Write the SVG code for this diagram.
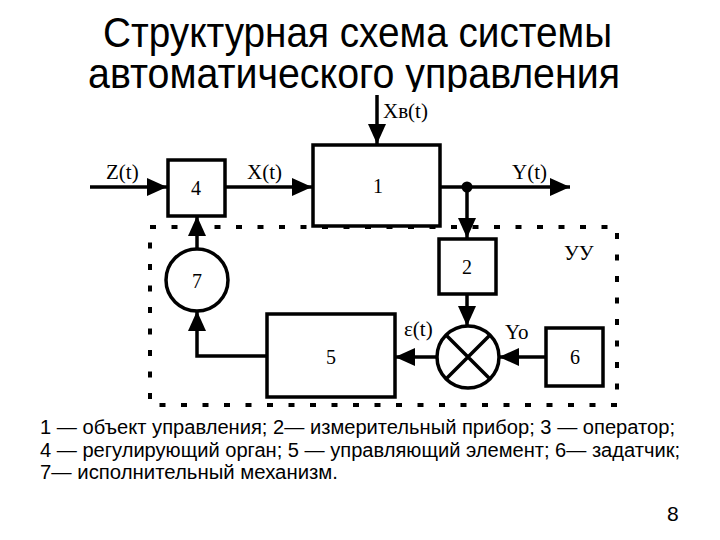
<svg xmlns="http://www.w3.org/2000/svg" width="720" height="540" viewBox="0 0 720 540">
<style>
.title{font-family:"Liberation Sans",Arial,sans-serif;font-size:42px;fill:#000}
.leg{font-family:"Liberation Sans",Arial,sans-serif;font-size:19.5px;fill:#000}
.lbl{font-family:"Liberation Serif","Times New Roman",serif;font-size:21px;fill:#000}
.num{font-family:"Liberation Serif","Times New Roman",serif;font-size:20px;fill:#000;text-anchor:middle;dominant-baseline:central}
.blk{fill:#fff;stroke:#000;stroke-width:3.5}
.ln{fill:none;stroke:#000;stroke-width:3.5}
</style>
<defs>
<marker id="ah" markerUnits="userSpaceOnUse" markerWidth="20" markerHeight="18" refX="20" refY="9" orient="auto">
<path d="M0,0 L20,9 L0,18 z" fill="#000"/>
</marker>
<clipPath id="tclip"><rect x="0" y="0" width="720" height="92"/></clipPath>
</defs>
<rect width="720" height="540" fill="#fff"/>
<g id="title" clip-path="url(#tclip)">
<text class="title" x="103" y="47" textLength="509" lengthAdjust="spacingAndGlyphs">Структурная схема системы</text>
<text class="title" x="88" y="88" textLength="532" lengthAdjust="spacingAndGlyphs">автоматического управления</text>
</g>
<g id="uu-boundary">
<rect x="150" y="227" width="467" height="178" fill="none" stroke="#000" stroke-width="4" stroke-dasharray="6 15.5"/>
<text class="lbl" x="564" y="260">УУ</text>
</g>
<g id="connectors">
<line class="ln" x1="90" y1="187" x2="167" y2="187" marker-end="url(#ah)"/>
<line class="ln" x1="226" y1="187" x2="312" y2="187" marker-end="url(#ah)"/>
<line class="ln" x1="377" y1="95" x2="377" y2="144" marker-end="url(#ah)"/>
<line class="ln" x1="440" y1="187" x2="570" y2="187" marker-end="url(#ah)"/>
<circle cx="467" cy="187" r="5.5" fill="#000"/>
<line class="ln" x1="467" y1="187" x2="467" y2="238" marker-end="url(#ah)"/>
<line class="ln" x1="467" y1="294" x2="467" y2="326" marker-end="url(#ah)"/>
<line class="ln" x1="546" y1="357" x2="499" y2="357" marker-end="url(#ah)"/>
<line class="ln" x1="437" y1="357" x2="395" y2="357" marker-end="url(#ah)"/>
<polyline class="ln" points="267,356 197,356 197,311" marker-end="url(#ah)"/>
<line class="ln" x1="197" y1="249" x2="197" y2="216" marker-end="url(#ah)"/>
<text class="lbl" x="106" y="179">Z(t)</text>
<text class="lbl" x="247" y="179">X(t)</text>
<text class="lbl" x="383" y="118">Xв(t)</text>
<text class="lbl" x="512" y="179">Y(t)</text>
<text class="lbl" x="404" y="336">ε(t)</text>
<text class="lbl" x="505" y="339">Yo</text>
</g>
<g id="n4"><rect class="blk" x="168" y="160" width="57" height="56"/><text class="num" x="196" y="188">4</text></g>
<g id="n1"><rect class="blk" x="313" y="145" width="127" height="81"/><text class="num" x="378" y="186">1</text></g>
<g id="n2"><rect class="blk" x="439" y="239" width="57" height="55"/><text class="num" x="467" y="267">2</text></g>
<g id="n6"><rect class="blk" x="546" y="328" width="57" height="58"/><text class="num" x="575" y="357">6</text></g>
<g id="n5"><rect class="blk" x="267" y="314" width="128" height="83"/><text class="num" x="331" y="357">5</text></g>
<g id="n7"><circle class="blk" cx="197" cy="280" r="31"/><text class="num" x="197" y="281">7</text></g>
<g id="comparator"><circle class="blk" cx="468" cy="357" r="31"/><path class="ln" d="M446,335 L490,379 M490,335 L446,379"/></g>
<g id="legend">
<text class="leg" x="40" y="434" textLength="635" lengthAdjust="spacingAndGlyphs">1 — объект управления; 2— измерительный прибор; 3 — оператор;</text>
<text class="leg" x="40" y="457" textLength="640" lengthAdjust="spacingAndGlyphs">4 — регулирующий орган; 5 — управляющий элемент; 6— задатчик;</text>
<text class="leg" x="40" y="479" textLength="298" lengthAdjust="spacingAndGlyphs">7— исполнительный механизм.</text>
<text class="leg" x="667" y="521" style="font-size:21px">8</text>
</g>
</svg>
